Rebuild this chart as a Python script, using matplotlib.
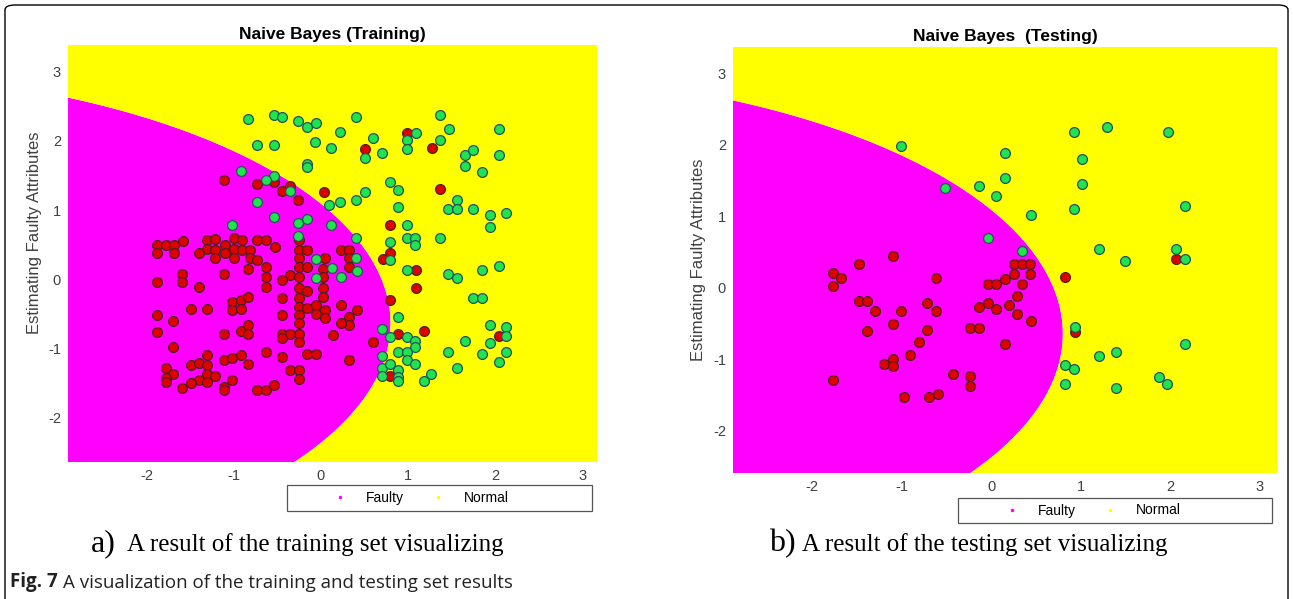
import numpy as np
import matplotlib.pyplot as plt
from matplotlib.lines import Line2D
from matplotlib.patches import FancyBboxPatch, Rectangle

plt.rcParams['font.family'] = ['Liberation Sans', 'DejaVu Sans']
plt.rcParams['axes.unicode_minus'] = False

# ==========================
# data (x, y)
# ==========================
train_faulty = np.array([
    (0.99, 2.11), (0.51, 1.88), (1.28, 1.90), (1.37, 1.31), (0.04, 1.26),
    (0.80, 0.78), (0.80, 0.37), (0.71, 0.29), (1.09, 0.13), (1.09, -0.13),
    (0.79, -0.31), (0.89, -0.79), (1.18, -0.75), (2.04, -0.82), (0.60, -0.91), (0.79, -1.40),
    (-1.11, 1.43), (-0.73, 1.37), (-0.54, 1.40), (-0.44, 1.28), (-0.35, 1.35), (-0.26, 1.14),
    (-1.58, 0.55), (-1.31, 0.57), (-1.21, 0.58), (-1.00, 0.59), (-0.90, 0.57), (-0.73, 0.57),
    (-0.63, 0.57), (-0.25, 0.57),
    (-1.88, 0.49), (-1.77, 0.49), (-1.68, 0.49), (-1.10, 0.49), (-0.53, 0.47), (-1.31, 0.43),
    (-1.21, 0.42), (-1.00, 0.44), (-0.90, 0.42), (-0.81, 0.42), (-0.25, 0.42), (-0.16, 0.42),
    (0.23, 0.42), (0.33, 0.42),
    (-1.88, 0.37), (-1.68, 0.37), (-1.10, 0.37), (-1.40, 0.38), (-1.21, 0.30), (-1.00, 0.31),
    (-0.81, 0.30), (-0.73, 0.28), (-0.25, 0.30), (0.05, 0.30), (0.33, 0.30),
    (-0.83, 0.15), (-0.63, 0.18), (-0.25, 0.18), (-0.16, 0.18), (0.03, 0.15), (0.33, 0.18),
    (-1.59, 0.08), (-1.11, 0.07), (-0.35, 0.06), (-0.25, 0.03), (0.03, 0.03), (-0.63, 0.03),
    (-1.88, -0.04), (-1.59, -0.04), (-0.44, -0.01), (-1.40, -0.11), (-0.63, -0.11), (-0.25, -0.13),
    (-0.16, -0.18), (0.03, -0.13), (0.03, -0.26), (-0.44, -0.28), (-0.25, -0.28), (-1.02, -0.33),
    (-0.92, -0.30), (-0.83, -0.26), (-1.02, -0.45), (-0.92, -0.43), (-1.49, -0.43), (-1.30, -0.43),
    (-0.25, -0.40), (-0.16, -0.42), (-0.06, -0.38), (-0.05, -0.51), (0.05, -0.45), (0.05, -0.57),
    (0.23, -0.38), (0.42, -0.45), (0.33, -0.55), (0.33, -0.67), (0.23, -0.64), (0.14, -0.81),
    (-0.25, -0.52), (-0.25, -0.64), (-0.25, -0.79), (-0.25, -0.91), (-0.44, -0.52),
    (-1.88, -0.52), (-1.69, -0.61), (-1.88, -0.76), (-1.11, -0.79), (-0.92, -0.75), (-0.83, -0.67),
    (-0.83, -0.79), (-0.44, -0.79), (-0.35, -0.79), (-0.44, -0.85),
    (-1.69, -0.99), (-0.63, -1.05), (-0.44, -1.13), (-0.16, -1.08), (-0.06, -1.08), (-1.30, -1.10),
    (-1.11, -1.17), (-1.02, -1.15), (-0.92, -1.10), (-0.83, -1.23), (0.33, -1.17),
    (-1.78, -1.29), (-1.49, -1.25), (-1.40, -1.22), (-1.30, -1.25), (-1.69, -1.37), (-1.78, -1.44),
    (-1.78, -1.49), (-1.30, -1.37), (-1.21, -1.41), (-1.40, -1.46), (-1.30, -1.49), (-1.49, -1.51),
    (-1.59, -1.58), (-1.11, -1.56), (-1.11, -1.61), (-1.02, -1.46), (-0.73, -1.61), (-0.63, -1.61),
    (-0.54, -1.53), (-0.35, -1.32), (-0.25, -1.32), (-0.25, -1.45),
])

train_normal = np.array([
    (-0.83, 2.32), (-0.54, 2.38), (-0.44, 2.35), (-0.26, 2.29), (-0.16, 2.20), (-0.06, 2.26),
    (-0.07, 1.99), (0.12, 1.90), (-0.73, 1.94), (-0.54, 1.94), (-0.16, 1.66), (-0.16, 1.62),
    (-0.92, 1.57), (-0.54, 1.49), (-0.63, 1.43), (-0.35, 1.27), (-0.73, 1.11), (0.10, 1.07),
    (-0.54, 0.90), (-0.16, 0.87), (-0.26, 0.81), (0.12, 0.78), (-1.02, 0.78), (-0.26, 0.63),
    (0.41, 2.35), (1.37, 2.38), (0.22, 2.13), (0.60, 2.05), (1.09, 2.11), (1.47, 2.17),
    (2.04, 2.17), (0.99, 2.01), (0.99, 1.89), (1.37, 2.01), (0.51, 1.75), (0.70, 1.82),
    (1.65, 1.79), (1.75, 1.87), (1.65, 1.64), (1.85, 1.55), (2.04, 1.79), (0.79, 1.41),
    (0.89, 1.29), (0.51, 1.26), (0.41, 1.14), (0.22, 1.11), (0.89, 1.04), (1.46, 1.02),
    (1.56, 1.14), (1.56, 1.02), (1.75, 1.02), (1.94, 0.93), (2.13, 0.96), (1.94, 0.75),
    (0.99, 0.78), (0.99, 0.60), (1.08, 0.59), (1.08, 0.49), (1.37, 0.60), (0.41, 0.60),
    (0.79, 0.54), (0.41, 0.31), (0.79, 0.28), (0.99, 0.13), (1.46, 0.07), (1.56, 0.01),
    (1.85, 0.13), (2.04, 0.19), (1.75, -0.28), (1.85, -0.28), (0.89, -0.55), (1.94, -0.67),
    (2.13, -0.69), (2.13, -0.82), (0.70, -0.72), (0.79, -0.84), (0.99, -0.84), (1.08, -0.90),
    (1.08, -0.99), (1.65, -0.90), (1.94, -0.93), (0.89, -1.05), (0.99, -1.05), (0.99, -1.17),
    (1.08, -1.23), (1.46, -1.05), (1.85, -1.08), (2.13, -1.05), (2.04, -1.20), (0.70, -1.11),
    (0.70, -1.29), (0.79, -1.23), (0.70, -1.41), (0.89, -1.32), (0.89, -1.42), (0.89, -1.48),
    (1.56, -1.29), (1.18, -1.47), (1.27, -1.38),
    (-0.05, 0.29), (0.13, 0.16), (-0.05, 0.01), (0.23, 0.03), (0.42, 0.11),
])

test_faulty = np.array([
    (-1.09, 0.44), (-1.47, 0.34), (-1.76, 0.21), (-1.67, 0.14), (-1.76, 0.03), (-0.62, 0.14),
    (-0.04, 0.06), (0.06, 0.06), (0.16, 0.12), (0.25, 0.19), (0.34, 0.06), (0.43, 0.19),
    (0.25, 0.33), (0.34, 0.33), (0.43, 0.33), (0.82, 0.15), (2.06, 0.41),
    (-1.47, -0.18), (-1.39, -0.18), (-1.29, -0.32), (-1.00, -0.32), (-0.71, -0.21), (-0.62, -0.32),
    (-0.14, -0.27), (-0.04, -0.21), (0.06, -0.30), (0.20, -0.24), (0.29, -0.11), (0.29, -0.36),
    (0.44, -0.46),
    (-1.39, -0.61), (-1.09, -0.50), (-0.71, -0.59), (-0.23, -0.56), (-0.14, -0.56), (-0.80, -0.76),
    (0.16, -0.79), (0.94, -0.62),
    (-0.90, -0.94), (-1.19, -1.06), (-1.09, -1.00), (-1.09, -1.09), (-1.76, -1.29), (-0.42, -1.21),
    (-0.23, -1.23), (-0.23, -1.37), (-0.97, -1.52), (-0.69, -1.52), (-0.59, -1.49),
])

test_normal = np.array([
    (-1.00, 1.98), (-0.52, 1.40), (-0.14, 1.42), (0.06, 1.28), (-0.04, 0.70), (0.34, 0.52),
    (0.16, 1.89), (0.16, 1.54), (0.44, 1.02), (0.92, 2.18), (1.29, 2.25), (1.97, 2.18),
    (1.01, 1.81), (1.01, 1.46), (0.92, 1.11), (2.16, 1.14), (1.20, 0.55), (1.49, 0.38),
    (2.06, 0.55), (2.16, 0.41), (0.94, -0.55), (2.16, -0.79), (1.20, -0.96), (1.39, -0.90),
    (0.82, -1.08), (0.92, -1.14), (0.82, -1.35), (1.39, -1.40), (1.87, -1.25), (1.96, -1.35),
])

# decision boundary of the classifier (an axis-aligned ellipse, faulty inside)
ell_center = (-5.87, -0.64)
ell_axes = (6.67, 3.65)

train_xlim, train_ylim = (-2.90, 3.17), (-2.65, 3.39)
test_xlim, test_ylim = (-2.88, 3.19), (-2.59, 3.37)
ticks = [-2, -1, 0, 1, 2, 3]
class_names = ['Faulty', 'Normal']

MAGENTA, YELLOW = '#ff00ff', '#ffff00'
RED, GREEN = '#e00000', '#1fe34f'
W, H = 1293, 599


def draw_panel(ax, faulty, normal, xlim, ylim, title, ylab_y):
    gx = np.arange(xlim[0], xlim[1] + 0.01, 0.01)
    gy = np.arange(ylim[0], ylim[1] + 0.01, 0.01)
    X1, X2 = np.meshgrid(gx, gy)
    f = ((X1 - ell_center[0]) / ell_axes[0]) ** 2 + ((X2 - ell_center[1]) / ell_axes[1]) ** 2 - 1
    ax.contourf(X1, X2, f, levels=[-100, 0, 100], colors=[MAGENTA, YELLOW], antialiased=True)

    ax.scatter(faulty[:, 0], faulty[:, 1], s=50, c=RED, edgecolors='#4a2020', linewidths=0.9, zorder=3)
    ax.scatter(normal[:, 0], normal[:, 1], s=50, c=GREEN, edgecolors='#25505a', linewidths=0.9, zorder=3)

    ax.set_xlim(xlim)
    ax.set_ylim(ylim)
    ax.set_xticks(ticks)
    ax.set_yticks(ticks)
    ax.tick_params(length=0, labelsize=10.5, labelcolor='#404040', pad=5)
    for sp in ax.spines.values():
        sp.set_visible(False)
    ax.set_title(title, fontsize=12.5, fontweight='bold', pad=4)
    ax.set_ylabel('Estimating Faulty Attributes', fontsize=12, color='#404040')
    ax.yaxis.set_label_coords(-0.05, ylab_y)


fig = plt.figure(figsize=(W / 100, H / 100), dpi=100)

ax1 = fig.add_axes([68 / W, 1 - 462 / H, 529 / W, 417 / H])
ax2 = fig.add_axes([733 / W, 1 - 473 / H, 544 / W, 426 / H])

draw_panel(ax1, train_faulty, train_normal, train_xlim, train_ylim, 'Naive Bayes (Training)', 0.55)
draw_panel(ax2, test_faulty, test_normal, test_xlim, test_ylim, 'Naive Bayes  (Testing)', 0.50)

# legends (tiny dots like the matlab ones) with a wide box behind them
handles = [Line2D([], [], ls='none', marker='.', ms=3, color=MAGENTA),
           Line2D([], [], ls='none', marker='.', ms=3, color=YELLOW)]
for box, x_start in [((287, 485, 305, 26), 326), ((958, 498, 314, 25), 998)]:
    bx, by, bw, bh = box
    fig.patches.append(Rectangle((bx / W, 1 - (by + bh) / H), bw / W, bh / H,
                                 transform=fig.transFigure, fill=False,
                                 ec='#555555', lw=0.9))
    fig.legend(handles, class_names, loc='center left', ncol=2,
               bbox_to_anchor=(x_start / W, 1 - (by + bh / 2) / H), fontsize=10,
               frameon=False, handlelength=2.0, handletextpad=0.9,
               columnspacing=1.4, borderpad=0, borderaxespad=0)

# captions
fig.text(91 / W, 1 - 551 / H, 'a)', family='Liberation Serif', fontsize=23)
fig.text(127 / W, 1 - 551 / H, 'A result of the training set visualizing',
         family='Liberation Serif', fontsize=18)
fig.text(769 / W, 1 - 551 / H, 'b)', family='Liberation Serif', fontsize=23)
fig.text(802 / W, 1 - 551 / H, 'A result of the testing set visualizing',
         family='Liberation Serif', fontsize=18)

t1 = fig.text(10 / W, 1 - 587 / H, 'Fig. 7', family='Open Sans', fontweight='bold',
              fontsize=13.5, color='#222222')
ax1.annotate('A visualization of the training and testing set results', xy=(1, 0),
             xycoords=t1, xytext=(4, 0), textcoords='offset points', va='bottom',
             family='Open Sans', fontsize=13.5, color='#222222', annotation_clip=False)

# rounded frame around the whole figure (bottom edge runs off the picture)
frame = FancyBboxPatch((5 / W, -10 / H), 1283 / W, 604 / H,
                       boxstyle='round,pad=0,rounding_size=0.008',
                       transform=fig.transFigure, fill=False, ec='black', lw=1.0)
fig.patches.append(frame)

fig.savefig('out.png', dpi=100, facecolor='white')
